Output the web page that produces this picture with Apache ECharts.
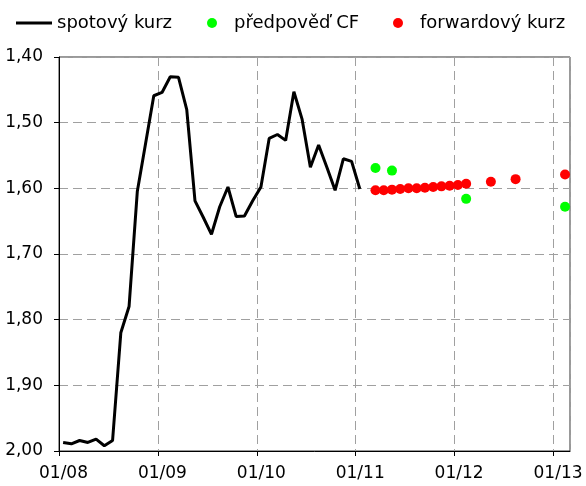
<!DOCTYPE html>
<html>
<head>
<meta charset="utf-8">
<script src="https://cdn.jsdelivr.net/npm/echarts@6/dist/echarts.min.js"></script>
<style>
  html, body { margin: 0; padding: 0; background: #fff; }
  #chart { width: 586px; height: 486px; }
</style>
</head>
<body>
<div id="chart"></div>
<script>
// month index: 0 = 01/2008
const yearLabels = ['01/08', '01/09', '01/10', '01/11', '01/12', '01/13']

// spotový kurz, monthly from 01/2008
const spotStart = 0.5
const spotValues = [
  1.987, 1.989, 1.984, 1.987, 1.982, 1.992, 1.984, 1.820, 1.780, 1.605,
  1.532, 1.459, 1.454, 1.430, 1.431, 1.480, 1.619, 1.644, 1.670, 1.628,
  1.598, 1.643, 1.642, 1.619, 1.598, 1.524, 1.518, 1.527, 1.453, 1.495,
  1.568, 1.534, 1.568, 1.603, 1.555, 1.559, 1.601
]

// předpověď CF
const cfMonths = [38.4, 40.4, 49.4, 61.4]
const cfValues = [1.569, 1.573, 1.616, 1.628]

// forwardový kurz
const fwdMonths = [38.4, 39.4, 40.4, 41.4, 42.4, 43.4, 44.4, 45.4, 46.4, 47.4, 48.4, 49.4, 52.4, 55.4, 61.4]
const fwdValues = [1.603, 1.603, 1.602, 1.601, 1.600, 1.600, 1.599, 1.598, 1.597, 1.596, 1.595, 1.593, 1.590, 1.586, 1.579]

const spotData = spotValues.map((v, i) => [spotStart + i, v])
const cfData = cfValues.map((v, i) => [cfMonths[i], v])
const fwdData = fwdValues.map((v, i) => [fwdMonths[i], v])

const font = 'DejaVu Sans'
const chart = echarts.init(document.getElementById('chart'))

const legendBase = {
  top: 13,
  padding: 0,
  textStyle: { fontFamily: font, fontSize: 18, color: '#000', lineHeight: 20 }
}

const option = {
  animation: false,
  grid: {
    left: 59, right: 16, top: 57, bottom: 35,
    show: true, borderColor: '#333', borderWidth: 1
  },
  legend: [
    Object.assign({}, legendBase, {
      left: 16, data: ['spotový kurz'], icon: 'rect', itemWidth: 36, itemHeight: 3
    }),
    Object.assign({}, legendBase, {
      left: 207, data: ['předpověď CF'], icon: 'circle', itemWidth: 10, itemHeight: 10,
      textStyle: Object.assign({}, legendBase.textStyle, { padding: [0, 0, 0, 12] })
    }),
    Object.assign({}, legendBase, {
      left: 393, data: ['forwardový kurz'], icon: 'circle', itemWidth: 10, itemHeight: 10,
      textStyle: Object.assign({}, legendBase.textStyle, { padding: [0, 0, 0, 12] })
    })
  ],
  xAxis: {
    type: 'value',
    min: 0, max: 62, interval: 12,
    axisLine: { show: true, onZero: false, lineStyle: { color: '#000', width: 1 } },
    axisTick: { show: true, length: 5, lineStyle: { color: '#000' } },
    axisLabel: {
      fontFamily: font, fontSize: 17, color: '#000', margin: 14,
      padding: [0, 0, 0, 9],
      showMaxLabel: false,
      formatter: v => (v % 12 === 0 ? yearLabels[v / 12] : '')
    },
    splitLine: { show: true, lineStyle: { color: '#a0a0a0', type: [9, 5], width: 1 } }
  },
  yAxis: {
    type: 'value',
    inverse: true,
    min: 1.4, max: 2.0, interval: 0.1,
    axisLine: { show: true, lineStyle: { color: '#000', width: 1 } },
    axisTick: { show: true, length: 5, lineStyle: { color: '#000' } },
    axisLabel: {
      fontFamily: font, fontSize: 17, color: '#000', margin: 16,
      formatter: v => v.toFixed(2).replace('.', ',')
    },
    splitLine: { show: true, lineStyle: { color: '#a0a0a0', type: [9, 5], width: 1 } }
  },
  series: [
    {
      name: 'spotový kurz',
      type: 'line',
      data: spotData,
      showSymbol: false,
      symbol: 'none',
      lineStyle: { color: '#000', width: 3 },
      itemStyle: { color: '#000' },
      z: 3
    },
    {
      name: 'předpověď CF',
      type: 'scatter',
      data: cfData,
      symbolSize: 10,
      itemStyle: { color: '#00ff00', opacity: 1 },
      z: 4
    },
    {
      name: 'forwardový kurz',
      type: 'scatter',
      data: fwdData,
      symbolSize: 10,
      itemStyle: { color: '#ff0000', opacity: 1 },
      z: 5
    }
  ]
}

chart.setOption(option)
</script>
</body>
</html>
